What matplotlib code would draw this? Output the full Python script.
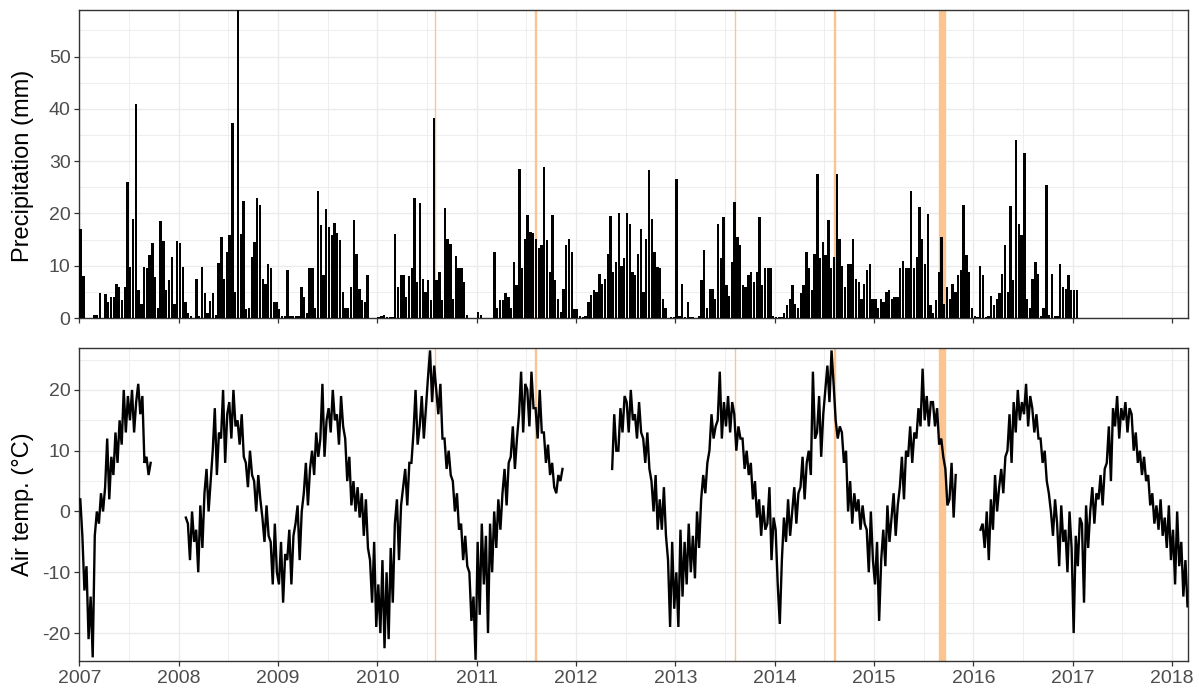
import numpy as np
import matplotlib
matplotlib.use('Agg')
import matplotlib.pyplot as plt
from matplotlib.ticker import MultipleLocator, FuncFormatter

nan = np.nan

# precipitation, three values per month (dekads), mm
precip_2007 = [17, 8, 0, 0, 0, 0.6, 0.5, 4.7, 0, 4.5, 3, 4, 4, 6.5, 6, 3.4, 6, 26, 9.8, 19, 41, 5.3, 2.7, 9.8,
               9.5, 12, 14.4, 7.9, 2, 18.5, 14.7, 5.3, 7.2, 11.7, 2.7, 14.7]
precip_2008 = [14.4, 9.8, 3, 1, 0.3, 0, 7.5, 0.3, 9.8, 4.7, 1, 3.2, 4.7, 0.5, 10.6, 15.5, 7.5, 12.6, 15.8, 37.2, 5,
               58.9, 16, 22.3, 1.8, 2, 11.7, 14.6, 23, 21.7, 7.5, 6.5, 10.4, 9.5, 3, 3]
precip_2009 = [1.7, 0.3, 0.3, 9.1, 0.3, 0.3, 0.3, 0.3, 5.9, 4, 1, 9.5, 9.5, 2, 24.3, 17.8, 8.2, 20.8, 17.4, 15.8,
               18.1, 16.2, 14.9, 5, 2, 2, 5.9, 18.7, 12.3, 5.6, 3.4, 3, 8.2, 0, 0, 0]
precip_2010 = [0.2, 0.3, 0.5, 0.2, 0.2, 0.2, 16, 6, 8.2, 8.2, 4, 8, 9.5, 23, 6.9, 22, 7.5, 5, 7.2, 3.4, 38.2,
               7.2, 8.8, 3.4, 21, 15.2, 14.2, 3.7, 11.9, 9.5, 9.5, 6.9, 0.5, 0, 0, 0]
precip_2011 = [1.1, 0.5, 0, 0, 0, 0, 12.6, 2, 3.4, 3.4, 4.7, 4, 2, 10.7, 6.3, 28.5, 9.5, 15.2, 19.7, 16.5, 16.2,
               15.2, 13.3, 14, 28.9, 15, 8.8, 19.7, 7.2, 3.7, 1.1, 5.6, 14, 15.2, 12.6, 1.8]
precip_2012 = [1.8, 0.3, 0.2, 0.3, 3, 4.4, 5.3, 4.9, 8.5, 6.6, 7.5, 12.3, 19.5, 8.8, 10.7, 20, 10, 11.4, 20, 18,
               8.8, 8.2, 12.3, 17.1, 5, 15.2, 28.3, 19, 12.6, 9.8, 9.5, 3.7, 2, 0, 0.2, 0.2]
precip_2013 = [26.6, 0.3, 6.6, 0.2, 3, 0.2, 0.2, 0, 0.3, 7.2, 13, 2, 5.6, 5.6, 3.7, 18, 11.4, 19.3, 6.3, 4.3,
               10.7, 22.2, 15.5, 14, 6.3, 5.9, 8.2, 8.8, 6.9, 8.8, 19.3, 6.3, 9.5, 9.5, 9.5, 0.3]
precip_2014 = [0.2, 0.2, 0.2, 1, 2.4, 3.7, 6.3, 2.7, 2, 4.7, 6.3, 12.6, 9.5, 5.3, 12.3, 27.6, 11.4, 14.6, 12,
               18.8, 9.5, 11.7, 27.6, 15.2, 10, 6, 10.4, 10.4, 15.2, 7.5, 6.9, 3.7, 6.6, 9.1, 10.4, 3.7]
precip_2015 = [3.7, 2, 3.7, 3, 5, 5.3, 3.7, 4, 4, 9.5, 11, 9.5, 9.5, 24.3, 9.5, 11.7, 21.3, 15.2, 10.4, 19.8,
               2.4, 1, 3.4, 8.8, 15.5, 2.7, 5.9, 3.7, 6.6, 5, 8.2, 9.1, 21.7, 12, 8.8, 2]
precip_2016 = [0.3, 0.2, 10, 8.2, 0.2, 0.3, 4.3, 2.4, 3.7, 4.7, 8.5, 14, 5, 21.4, 7.2, 34, 18, 15.8, 31.5, 3.7,
               2, 7.5, 10.7, 8.5, 0.3, 2, 25.4, 0.5, 8.5, 0.3, 0.3, 10.4, 5.9, 5.6, 8.2, 5.3]
precip_2017 = [5.3, 5.3]

# air temperature, four values per month, degC
temp_2007 = [2, -4, -13, -9, -21, -14, -24, -4, 0, -2, 3, 0, 4, 12, 2, 9, 6, 13, 8, 15, 11, 20, 13, 19,
             15, 20, 13, 18, 21, 16, 19, 8, 9, 6, 8, nan, nan, nan, nan, nan, nan, nan, nan, nan, nan, nan, nan, nan]
temp_2008 = [nan, nan, nan, -1, -2, -8, 0, -5, -3, -10, 1, -6, 3, 7, 0, 5, 10, 17, 6, 13, 12, 20, 8, 16,
             18, 12, 20, 14, 15, 11, 16, 9, 8, 4, 10, 6, 5, 0, 6, 2, -1, -5, 1, -4, -5, -12, -2, -10]
temp_2009 = [-12, -5, -15, -7, -8, -3, -12, -4, -2, 1, -8, 0, 3, 8, 1, 7, 10, 6, 13, 9, 12, 21, 9, 15,
             17, 13, 20, 15, 16, 11, 19, 14, 12, 5, 9, 1, 5, 0, 4, -1, 3, -4, 2, -6, -8, -15, -5, -19]
temp_2010 = [-12, -20, -8, -22.5, -10, -21, -6, -15, -2, 2, -8, 1, 4, 7, 1, 8, 8, 13, 20, 11, 14, 19, 12, 17,
             22, 26.5, 18, 24, 20, 16, 21, 12, 12, 7, 10, 6, 5, 0, 3, -3, -2, -8, -4, -9, -10, -18, -14, -24.4]
temp_2011 = [-5, -17, -2, -12, -4, -20, -2, -10, 0, -6, 2, -3, 3, 7, 1, 8, 9, 14, 7, 12, 16, 23, 13, 21,
             20, 14, 23, 17, 17, 12, 20, 13, 13, 8, 11, 6, 8, 4, 3, 6, 5, 7, nan, nan, nan, nan, nan, nan]
temp_2012 = [nan, nan, nan, nan, nan, nan, nan, nan, nan, nan, nan, nan, nan, nan, nan, nan, nan, 7, 16, 10,
             10, 17, 13, 19, 18, 13, 20, 15, 16, 12, 18, 13, 12, 8, 13, 7, 5, 0, 6, -3, 2, -3, 4, -4,
             -8, -19, -5, -16]
temp_2013 = [-10, -19, -3, -14, -5, -12, -2, -10, -4, -11, 0, -6, 2, 6, 3, 8, 10, 16, 12, 14, 15, 23, 12, 18,
             14, 19, 13, 18, 16, 10, 14, 12, 12, 7, 10, 6, 8, 2, 5, -1, 2, -4, 1, -3, -2, 4, -8, -1]
temp_2014 = [-3, -12, -18.5, -8, -1, -5, 2, -4, 0, 4, -2, 3, 4, 9, 2, 8, 10, 6, 23, 12, 13, 19, 9, 16,
             20, 24, 18, 26.5, 21, 15, 12, 14, 13, 8, 10, 0, 5, -2, 3, 0, 2, -3, 1, -2, -3, -10, 0, -8]
temp_2015 = [-12, -5, -18, -8, -3, -9, 1, -5, -1, 3, -4, 1, 4, 9, 2, 10, 9, 14, 8, 13, 12, 17, 14, 23.5,
             15, 19, 14, 18, 18, 14, 17, 11, 12, 9, 7, 1, 2, 8, -1, 6, nan, nan, nan, nan, nan, nan, nan, nan]
temp_2016 = [nan, nan, nan, -3, -2, -6, 0, -8, 2, -3, 6, 0, 4, 7, 3, 9, 10, 16, 8, 18, 13, 20, 15, 18,
             16, 21, 14, 19, 17, 13, 16, 12, 12, 8, 10, 5, 3, 0, -4, 2, -2, -9, 1, -5, -3, -10, 0, -6]
temp_2017 = [-20, -4, -9, -1, -2, -15, 1, -6, 0, 4, -2, 3, 2, 6, 1, 7, 8, 14, 5, 17, 14, 19, 12, 17,
             15, 18, 13, 17, 16, 10, 13, 8, 10, 6, 9, 5, 6, 1, 3, -2, 1, -3, 2, -4, -1, -6, 1, -8]
temp_2018 = [-3, -12, 0, -9, -5, -14, -8, -15.6]

# highlighted periods (decimal years)
event_start = [2010.580, 2011.591, 2013.600, 2014.597, 2015.654]
event_end = [2010.582, 2011.593, 2013.602, 2014.607, 2015.715]

precip_years = [precip_2007, precip_2008, precip_2009, precip_2010, precip_2011, precip_2012,
                precip_2013, precip_2014, precip_2015, precip_2016, precip_2017]
temp_years = [temp_2007, temp_2008, temp_2009, temp_2010, temp_2011, temp_2012,
              temp_2013, temp_2014, temp_2015, temp_2016, temp_2017, temp_2018]


def month_positions(year, n, per_month):
    # centre of each sub-monthly slot as a decimal year
    return [year + (i // per_month + (i % per_month + 0.5) / per_month) / 12 for i in range(n)]


px, py = [], []
for yr, vals in zip(range(2007, 2018), precip_years):
    px += month_positions(yr, len(vals), 3)
    py += vals

tx, ty = [], []
for yr, vals in zip(range(2007, 2019), temp_years):
    tx += month_positions(yr, len(vals), 4)
    ty += vals

plt.rcParams['font.family'] = 'Liberation Sans'
plt.rcParams['axes.unicode_minus'] = False

ORANGE = '#FCC490'
GRID = '#EBEBEB'
EDGE = '#333333'
TXT = '#4D4D4D'

fig = plt.figure(figsize=(11.99, 6.95), dpi=100)
ax1 = fig.add_axes([0.0661, 0.5424, 0.9247, 0.4432])
ax2 = fig.add_axes([0.0661, 0.0489, 0.9247, 0.4504])


def style(ax):
    ax.set_xlim(2007, 2018.161)
    ax.xaxis.set_major_locator(MultipleLocator(1))
    ax.xaxis.set_minor_locator(MultipleLocator(0.5))
    ax.xaxis.set_major_formatter(FuncFormatter(lambda v, p: f'{v:.0f}'))
    ax.yaxis.set_major_formatter(FuncFormatter(lambda v, p: f'{v:.0f}'))
    ax.set_axisbelow(True)
    ax.grid(which='major', color=GRID, lw=1.0)
    ax.grid(which='minor', color=GRID, lw=0.6)
    for s in ax.spines.values():
        s.set_color(EDGE)
        s.set_linewidth(1.0)
    ax.tick_params(which='major', length=3.8, width=0.9, color=EDGE,
                   labelsize=14, labelcolor=TXT, pad=2.5)
    ax.tick_params(which='minor', length=0)
    for s, e in zip(event_start, event_end):
        ax.axvspan(s, e, color=ORANGE, lw=1.0, zorder=1)


style(ax1)
ax1.bar(px, py, width=0.85 / 36, color='black', lw=0, zorder=3)
ax1.set_ylim(0, 58.9)
ax1.yaxis.set_major_locator(MultipleLocator(10))
ax1.yaxis.set_minor_locator(MultipleLocator(5))
ax1.tick_params(labelbottom=False)

style(ax2)
ax2.plot(tx, ty, color='black', lw=1.7, zorder=3, solid_joinstyle='miter')
ax2.set_ylim(-24.6, 26.9)
ax2.yaxis.set_major_locator(MultipleLocator(10))
ax2.yaxis.set_minor_locator(MultipleLocator(5))

fig.text(23 / 1199, 1 - 166 / 695, 'Precipitation (mm)', rotation=90, ha='center', va='center',
         fontsize=17, color='black')
fig.text(23 / 1199, 1 - 504 / 695, 'Air temp. (°C)', rotation=90, ha='center', va='center',
         fontsize=17, color='black')

fig.savefig('out.png', dpi=100)
